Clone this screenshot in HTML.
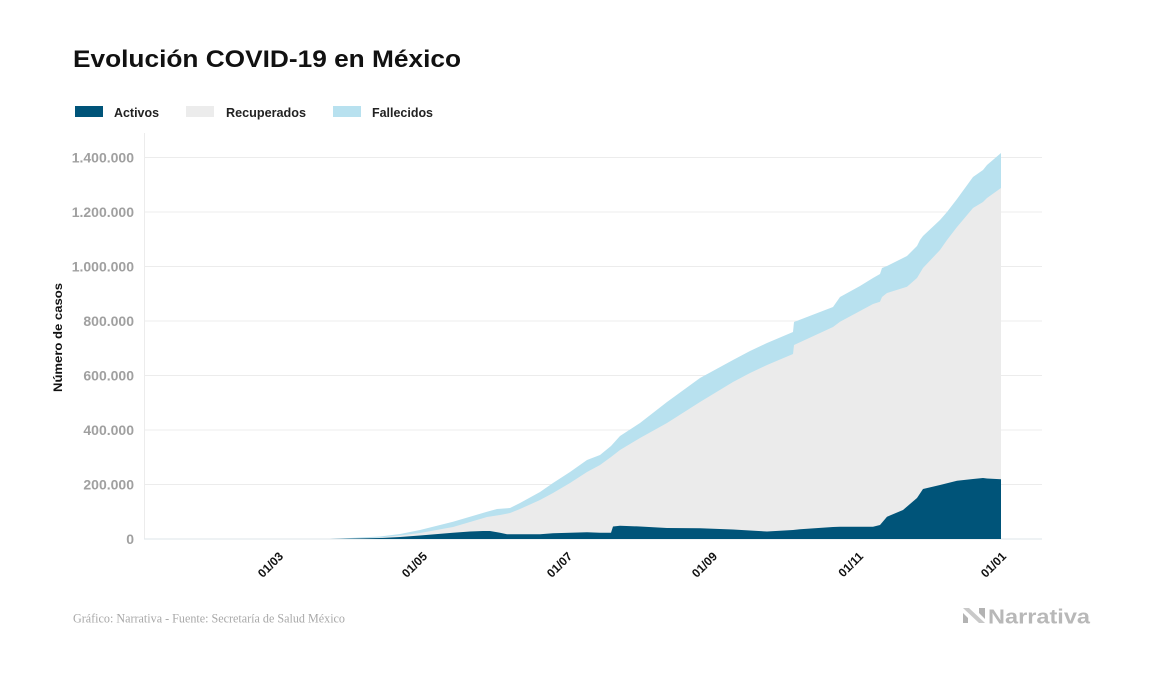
<!DOCTYPE html>
<html>
<head>
<meta charset="utf-8">
<style>
html,body{margin:0;padding:0;background:#fff;}
body{width:1157px;height:674px;overflow:hidden;}
svg{display:block;}
.sans{font-family:"Liberation Sans",Arial,sans-serif;}
</style>
</head>
<body>
<svg width="1157" height="674" viewBox="0 0 1157 674" xmlns="http://www.w3.org/2000/svg">
  <rect width="1157" height="674" fill="#ffffff"/>

  <!-- Title -->
  <text class="sans" x="73" y="67" font-size="24" font-weight="bold" fill="#111" textLength="388" lengthAdjust="spacingAndGlyphs">Evolución COVID-19 en México</text>

  <!-- Legend -->
  <rect x="75" y="106" width="28" height="11" fill="#005479"/>
  <text class="sans" x="114" y="117" font-size="12.5" font-weight="bold" fill="#222" textLength="45" lengthAdjust="spacingAndGlyphs">Activos</text>
  <rect x="186" y="106" width="28" height="11" fill="#ececec"/>
  <text class="sans" x="226" y="117" font-size="12.5" font-weight="bold" fill="#222" textLength="80" lengthAdjust="spacingAndGlyphs">Recuperados</text>
  <rect x="333" y="106" width="28" height="11" fill="#b8e1ef"/>
  <text class="sans" x="372" y="117" font-size="12.5" font-weight="bold" fill="#222" textLength="61" lengthAdjust="spacingAndGlyphs">Fallecidos</text>

  <!-- Axis line & gridlines -->
  <line x1="144.5" y1="133" x2="144.5" y2="539" stroke="#ececec" stroke-width="1"/>
  <g stroke="#ececec" stroke-width="1">
    <line x1="144" y1="157.5" x2="1042" y2="157.5"/>
    <line x1="144" y1="212" x2="1042" y2="212"/>
    <line x1="144" y1="266.5" x2="1042" y2="266.5"/>
    <line x1="144" y1="321" x2="1042" y2="321"/>
    <line x1="144" y1="375.5" x2="1042" y2="375.5"/>
    <line x1="144" y1="430" x2="1042" y2="430"/>
    <line x1="144" y1="484.5" x2="1042" y2="484.5"/>
  </g>
  <line x1="144" y1="539" x2="1042" y2="539" stroke="#e3eaee" stroke-width="1.2"/>

  <!-- Y tick labels -->
  <g class="sans" font-size="14" font-weight="bold" fill="#a0a0a0" text-anchor="end">
    <text x="134" y="162.5">1.400.000</text>
    <text x="134" y="217">1.200.000</text>
    <text x="134" y="271.5">1.000.000</text>
    <text x="134" y="326">800.000</text>
    <text x="134" y="380.5">600.000</text>
    <text x="134" y="435">400.000</text>
    <text x="134" y="489.5">200.000</text>
    <text x="134" y="544">0</text>
  </g>

  <!-- Y axis title -->
  <text class="sans" transform="translate(62,337.5) rotate(-90)" text-anchor="middle" font-size="12" font-weight="bold" fill="#111" textLength="109" lengthAdjust="spacingAndGlyphs">Número de casos</text>

  <!-- Fallecidos (total top) -->
  <polygon fill="#b8e1ef" points="
    330,539 380,536.5 400,534 420,530 453,521.7 487,511.7 497,509 510,508 520,503 540,492 553,483 570,472 587,460 600,455 611,446 620,436 640,423 667,402 700,378 733,360 750,351 767,343 793,332 794,322 833,307 840,297 860,286 873,278 880,274 882,268 887,266 903,258 907,256 917,246 920,240 923,236 940,220 947,212 957,199 973,177 983,170 987,165 1001,153 1001,539"/>

  <!-- Recuperados (activos + recuperados top) -->
  <polygon fill="#ebebeb" points="
    330,539 380,537.5 400,535.5 420,533 453,527 487,517 500,515 510,513 520,509 540,500 553,493 570,483 587,472 600,465 611,457 620,450 640,438 667,423 700,402 733,382 750,373 767,365 793,354 794,345 833,327 840,321.7 860,311 873,304 880,301.7 882,297 887,293 903,288 907,286.7 917,278 920,273 923,268 940,250 947,240 957,227 973,208 983,202 987,198 1001,188 1001,539"/>

  <!-- Activos -->
  <polygon fill="#005479" points="
    330,539 380,538 400,537 420,535.5 453,532.7 470,531.5 483,531 490,531 500,532.7 507,534.3 520,534.3 540,534.3 553,533.3 587,532.3 600,532.7 611,532.7 613,526.5 620,525.7 640,526.5 667,528 700,528.3 733,529.5 750,530.5 767,531.5 793,530 800,529.3 833,527 840,526.7 860,526.7 873,526.7 880,525 887,516.7 903,510 917,498 923,489 940,485 957,480.7 973,479 983,478 987,478.5 1001,479.3 1001,539"/>

  <!-- X tick labels -->
  <g class="sans" font-size="12" font-weight="bold" fill="#111" text-anchor="end">
    <text transform="translate(284,557) rotate(-45)">01/03</text>
    <text transform="translate(428,557) rotate(-45)">01/05</text>
    <text transform="translate(573,557) rotate(-45)">01/07</text>
    <text transform="translate(718,557) rotate(-45)">01/09</text>
    <text transform="translate(864,557) rotate(-45)">01/11</text>
    <text transform="translate(1007,557) rotate(-45)">01/01</text>
  </g>

  <!-- Footer -->
  <text x="73" y="622.5" style="font-family:'Liberation Serif','Times New Roman',serif;" font-size="13" fill="#a8a8a8" textLength="272" lengthAdjust="spacingAndGlyphs">Gráfico: Narrativa - Fuente: Secretaría de Salud México</text>

  <!-- Logo -->
  <polygon points="963,608 969,608 985,623 979,623" fill="#c9c9c9"/>
  <polygon points="979,608 985,608 985,619 979,613" fill="#b3b3b3"/>
  <polygon points="963,613 968,618 968,623 963,623" fill="#b3b3b3"/>
  <text class="sans" x="988" y="623.5" font-size="20" font-weight="bold" fill="#b8b8b8" textLength="102" lengthAdjust="spacingAndGlyphs">Narrativa</text>
</svg>
</body>
</html>
